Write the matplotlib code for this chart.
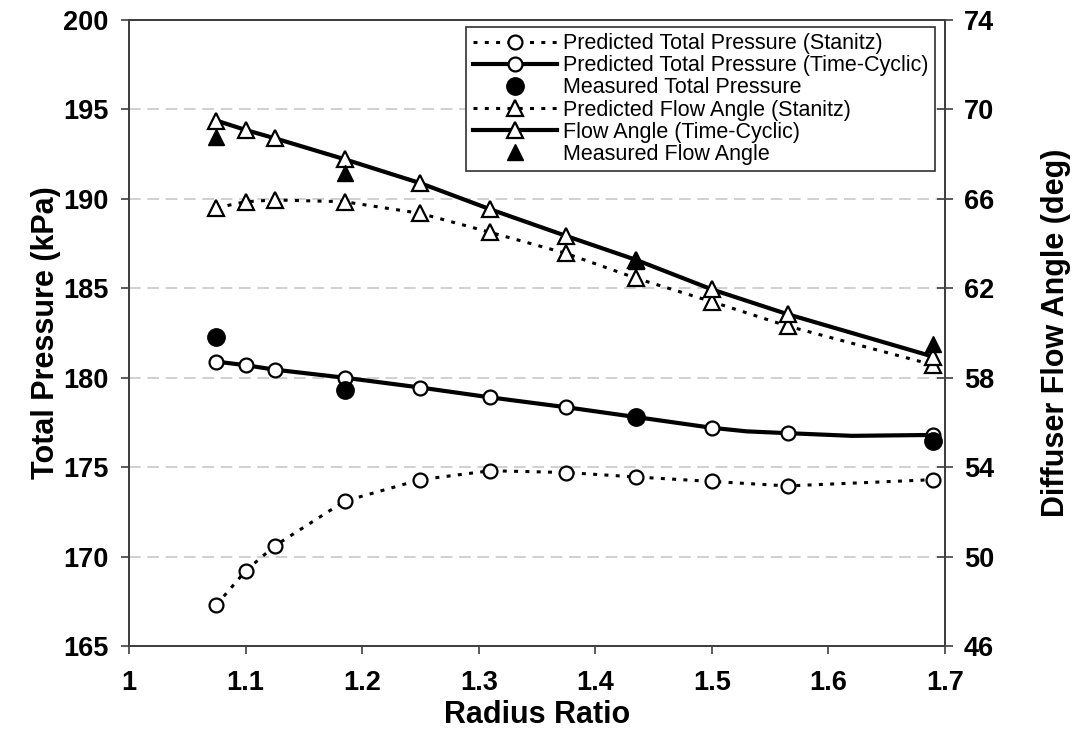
import matplotlib
matplotlib.use("Agg")
import matplotlib.pyplot as plt

plt.rcParams['font.family'] = ['Liberation Sans', 'DejaVu Sans']

# radius ratio stations
radius = [1.075, 1.1, 1.125, 1.185, 1.25, 1.31, 1.375, 1.435, 1.5, 1.565, 1.69]

# total pressure (kPa)
p_stanitz = [167.3, 169.2, 170.6, 173.1, 174.3, 174.8, 174.7, 174.45, 174.2, 173.95, 174.3]
# time-cyclic curve has two extra vertices (1.53, 1.62) that carry no marker
radius_tc = [1.075, 1.1, 1.125, 1.185, 1.25, 1.31, 1.375, 1.435, 1.5, 1.53, 1.565, 1.62, 1.69]
p_tc = [180.9, 180.7, 180.45, 180.0, 179.45, 178.9, 178.35, 177.8, 177.2, 177.0, 176.9, 176.75, 176.8]
tc_marked = [0, 1, 2, 3, 4, 5, 6, 7, 8, 10, 12]
radius_meas = [1.075, 1.185, 1.435, 1.69]
p_meas = [182.25, 179.3, 177.8, 176.45]

# diffuser flow angle (deg)
ang_stanitz = [65.6, 65.87, 65.95, 65.87, 65.35, 64.5, 63.56, 62.45, 61.4, 60.31, 58.57]
ang_tc = [69.5, 69.08, 68.71, 67.77, 66.7, 65.53, 64.34, 63.27, 61.95, 60.84, 58.94]
ang_meas = [68.78, 67.14, 63.23, 59.5]

x_ticks = [1, 1.1, 1.2, 1.3, 1.4, 1.5, 1.6, 1.7]
p_ticks = [165, 170, 175, 180, 185, 190, 195, 200]
ang_ticks = [46, 50, 54, 58, 62, 66, 70, 74]

dotted = (0, (1.3, 2.4))
spine_col = '#404040'

fig = plt.figure(figsize=(10.78, 7.51), dpi=100)
ax1 = fig.add_axes([0.1197, 0.1398, 0.7569, 0.8336])
ax2 = ax1.twinx()

h1, = ax1.plot(radius, p_stanitz, linestyle=dotted, color='black', lw=2.2,
               marker='o', ms=10, mfc='white', mec='black', mew=1.6,
               label='Predicted Total Pressure (Stanitz)')
h2, = ax1.plot(radius_tc, p_tc, '-', color='black', lw=3.0, markevery=tc_marked,
               marker='o', ms=10, mfc='white', mec='black', mew=1.6,
               label='Predicted Total Pressure (Time-Cyclic)')
h3, = ax1.plot(radius_meas, p_meas, linestyle='none', marker='o', ms=12.5,
               mfc='black', mec='black', label='Measured Total Pressure')

h4, = ax2.plot(radius, ang_stanitz, linestyle=dotted, color='black', lw=2.2,
               marker='^', ms=12, mfc='white', mec='black', mew=1.6,
               label='Predicted Flow Angle (Stanitz)')
h5, = ax2.plot(radius, ang_tc, '-', color='black', lw=3.0,
               marker='^', ms=12, mfc='white', mec='black', mew=1.6,
               label='Flow Angle (Time-Cyclic)')
h6, = ax2.plot(radius_meas, ang_meas, linestyle='none', marker='^', ms=12,
               mfc='black', mec='black', label='Measured Flow Angle')

ax1.set_xlim(1, 1.7)
ax1.set_ylim(165, 200)
ax2.set_ylim(46, 74)
ax1.set_xticks(x_ticks)
ax1.set_xticklabels(['%g' % v for v in x_ticks])
ax1.set_yticks(p_ticks)
ax2.set_yticks(ang_ticks)

ax1.yaxis.grid(True, color='#c8c8c8', linestyle=(0, (7, 4)), lw=1.2)
ax1.set_axisbelow(True)

for ax in (ax1, ax2):
    for s in ax.spines.values():
        s.set_color(spine_col)
        s.set_linewidth(1.4)

ax1.tick_params(axis='y', direction='out', length=6, width=1.2, color=spine_col, pad=9)
ax1.tick_params(axis='x', direction='out', length=6, width=1.2, color=spine_col, pad=11)
ax2.tick_params(axis='y', direction='inout', length=11, width=1.2, color=spine_col, pad=8)
for lab in ax1.get_xticklabels() + ax1.get_yticklabels() + ax2.get_yticklabels():
    lab.set_fontsize(19.5)
    lab.set_fontweight('bold')

ax1.set_xlabel('Radius Ratio', fontsize=22, fontweight='bold', labelpad=3)
ax1.set_ylabel('Total Pressure (kPa)', fontsize=22, fontweight='bold', labelpad=1)
ax2.set_ylabel('Diffuser Flow Angle (deg)', fontsize=22, fontweight='bold', labelpad=34)

leg = ax2.legend(handles=[h1, h2, h3, h4, h5, h6], loc='upper right',
                 bbox_to_anchor=(0.988, 0.989), borderaxespad=0, fontsize=15.5,
                 frameon=True, fancybox=False, framealpha=1, edgecolor='#303030',
                 handlelength=3.9, handletextpad=0.3, labelspacing=0.05,
                 borderpad=0.3, numpoints=1)
leg.get_frame().set_linewidth(1.2)

fig.savefig('out.png', dpi=100)
